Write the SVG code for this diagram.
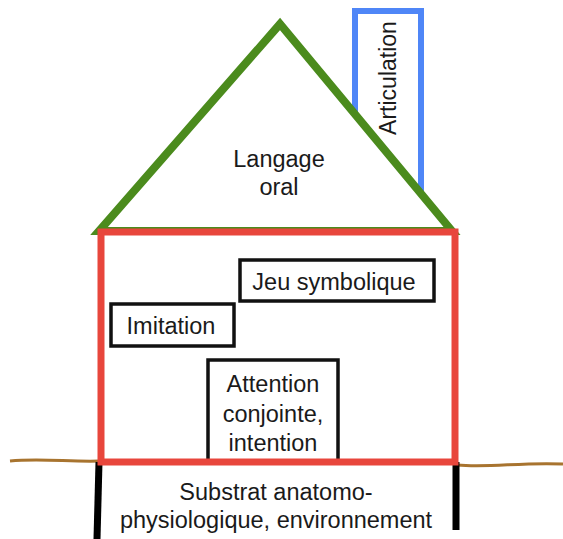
<svg xmlns="http://www.w3.org/2000/svg" width="563" height="539" viewBox="0 0 563 539">
<style>
.t{font-family:"Liberation Sans",Arial,sans-serif;font-size:23.5px;fill:#1a1a1a;text-anchor:middle}
.box{fill:#fff;stroke:#111;stroke-width:3.5}
</style>
<rect width="563" height="539" fill="#fff"/>
<g id="ground">
<path d="M10,461 C40,458 70,462 99,461" fill="none" stroke="#a8742f" stroke-width="3"/>
<path d="M457,465 C490,468 520,462 563,464" fill="none" stroke="#a8742f" stroke-width="3"/>
</g>
<g id="foundation">
<path d="M99,462 L97,539" stroke="#000" stroke-width="7" fill="none"/>
<path d="M456,462 L456,530" stroke="#000" stroke-width="7" fill="none"/>
<text class="t" x="276" y="500">Substrat anatomo-</text>
<text class="t" x="276" y="528">physiologique, environnement</text>
</g>
<g id="chimney">
<path d="M355,116 V11 H421 V196" fill="#fff" stroke="#4f86f7" stroke-width="6"/>
<text class="t" style="font-size:23px" transform="translate(396,78) rotate(-90)">Articulation</text>
</g>
<g id="roof">
<polygon points="280,24 99,231 452,231" fill="none" stroke="#4b8b1d" stroke-width="8" stroke-linejoin="miter"/>
<text class="t" x="279" y="167">Langage</text>
<text class="t" x="279" y="195">oral</text>
</g>
<g id="jeu">
<rect class="box" x="240" y="260" width="194" height="41"/>
<text class="t" x="334" y="290">Jeu symbolique</text>
</g>
<g id="imitation">
<rect class="box" x="111" y="304" width="123" height="42"/>
<text class="t" x="171" y="334">Imitation</text>
</g>
<g id="attention">
<rect class="box" x="208" y="360" width="130" height="102"/>
<text class="t" x="273" y="392">Attention</text>
<text class="t" x="273" y="422">conjointe,</text>
<text class="t" x="273" y="451">intention</text>
</g>
<g id="house">
<rect x="101" y="232" width="354" height="230" fill="none" stroke="#e8463c" stroke-width="7"/>
</g>
</svg>
